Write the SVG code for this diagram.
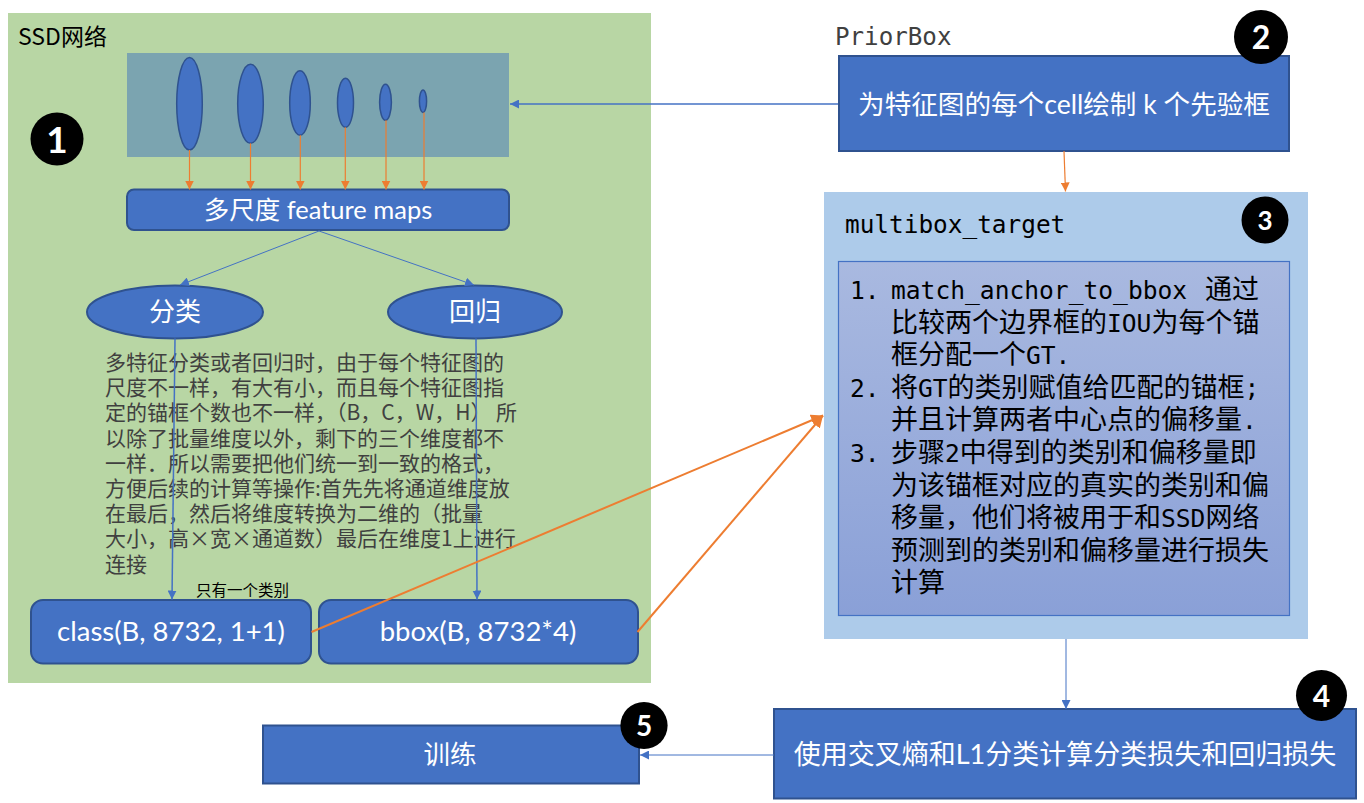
<svg xmlns="http://www.w3.org/2000/svg" width="1364" height="803" viewBox="0 0 1364 803">
<style>
.bx{fill:#4472c4;stroke:#2f528f;stroke-width:2}
.wt{fill:#fff;font-family:"Lato","Noto Sans CJK SC",sans-serif;text-anchor:middle}
.cj{font-family:"Noto Sans CJK SC",sans-serif}
.mono{font-family:"DejaVu Sans Mono","Liberation Mono",monospace}
.num circle{fill:#000}
.num text{fill:#fff;font-family:"Lato","Liberation Sans",sans-serif;font-weight:bold;text-anchor:middle}
.bl{stroke:#4472c4;fill:none}
.or{stroke:#ed7d31;fill:none}
.para{font-family:"Noto Sans CJK SC",sans-serif;font-size:21px;fill:#404040}
.mt{font-family:"Noto Sans CJK SC",sans-serif;font-size:27px;fill:#000}
.m{font-family:"DejaVu Sans Mono","Liberation Mono",monospace;font-size:24.6px;fill:#000}
</style>
<defs>
<marker id="ab" viewBox="0 0 10 10" refX="10" refY="5" markerWidth="9" markerHeight="9" markerUnits="userSpaceOnUse" orient="auto"><path d="M0,0L10,5L0,10z" fill="#4472c4"/></marker>
<marker id="ao" viewBox="0 0 10 10" refX="10" refY="5" markerWidth="9" markerHeight="9" markerUnits="userSpaceOnUse" orient="auto"><path d="M0,0L10,5L0,10z" fill="#ed7d31"/></marker>
<marker id="ao2" viewBox="0 0 10 10" refX="10" refY="5" markerWidth="12" markerHeight="12" markerUnits="userSpaceOnUse" orient="auto"><path d="M0,0L10,5L0,10z" fill="#ed7d31"/></marker>
<linearGradient id="g3" x1="0" y1="0" x2="0" y2="1"><stop offset="0" stop-color="#a9b9e0"/><stop offset="1" stop-color="#8aa0d7"/></linearGradient>
</defs>

<g id="ssd">
<rect x="8" y="13" width="643" height="670" fill="#b8d6a4"/>
<text x="18" y="45" class="cj" font-size="23" fill="#000">SSD网络</text>
</g>

<g id="featurestack">
<rect x="127" y="53" width="382" height="104" fill="#7ba4b0"/>
<g fill="#4472c4" stroke="#2f528f" stroke-width="1.5">
<ellipse cx="189.5" cy="103.7" rx="12.8" ry="46.3"/>
<ellipse cx="250.5" cy="103.8" rx="12.8" ry="39.5"/>
<ellipse cx="300" cy="103" rx="10.3" ry="32.3"/>
<ellipse cx="345.5" cy="102.8" rx="8" ry="24.5"/>
<ellipse cx="385.5" cy="102.3" rx="5.9" ry="18"/>
<ellipse cx="423" cy="101.2" rx="3.6" ry="11.2"/>
</g>
</g>

<g id="n1" class="num"><circle cx="57" cy="139" r="26.5"/><text x="57" y="152.5" font-size="37">1</text></g>

<g id="featuremaps">
<rect x="127" y="189.5" width="382" height="40.5" rx="7" class="bx"/>
<text x="318" y="219" class="wt" font-size="25.5">多尺度 feature maps</text>
</g>

<g id="cls">
<ellipse cx="175" cy="312" rx="88" ry="26.5" class="bx" stroke-width="1.5"/>
<text x="175" y="321" class="wt" font-size="26">分类</text>
</g>
<g id="reg">
<ellipse cx="475" cy="312" rx="87" ry="26.5" class="bx" stroke-width="1.5"/>
<text x="475" y="321" class="wt" font-size="26">回归</text>
</g>

<g id="note">
<text class="para" x="105" y="370">多特征分类或者回归时，由于每个特征图的</text>
<text class="para" x="105" y="395.2">尺度不一样，有大有小，而且每个特征图指</text>
<text class="para" x="105" y="420.4">定的锚框个数也不一样，（B，C，W，H） 所</text>
<text class="para" x="105" y="445.6">以除了批量维度以外，剩下的三个维度都不</text>
<text class="para" x="105" y="470.8">一样．所以需要把他们统一到一致的格式，</text>
<text class="para" x="105" y="496">方便后续的计算等操作:首先先将通道维度放</text>
<text class="para" x="105" y="521.2">在最后，然后将维度转换为二维的（批量</text>
<text class="para" x="105" y="546.4">大小，高×宽×通道数）最后在维度1上进行</text>
<text class="para" x="105" y="571.6">连接</text>
<text x="196" y="596" class="cj" font-size="15.5" fill="#000">只有一个类别</text>
</g>

<g id="classbox">
<rect x="31" y="600" width="280" height="63.5" rx="12" class="bx"/>
<text x="171" y="641" class="wt" font-size="27.5">class(B, 8732, 1+1)</text>
</g>
<g id="bboxbox">
<rect x="319" y="600" width="319" height="63.5" rx="12" class="bx"/>
<text x="478" y="641" class="wt" font-size="27.5">bbox(B, 8732*4)</text>
</g>

<g id="priorbox">
<text x="835" y="45" class="mono" font-size="24.2" fill="#404040">PriorBox</text>
<rect x="839" y="56" width="450" height="95" class="bx"/>
<text x="1064" y="114" class="wt" font-size="26.6">为特征图的每个cell绘制 k 个先验框</text>
</g>
<g id="n2" class="num"><circle cx="1261" cy="37" r="27"/><text x="1261" y="49" font-size="32">2</text></g>

<g id="multibox">
<rect x="824" y="192" width="484" height="447" fill="#adcbea"/>
<text x="845" y="233" class="mono" font-size="24.4" fill="#000">multibox_target</text>
<rect x="838.5" y="261.5" width="451" height="354" fill="url(#g3)" stroke="#4472c4" stroke-width="1.2"/>
<text class="m" x="850" y="299">1.</text>
<text class="m" x="891" y="299">match_anchor_to_bbox</text>
<text class="mt" x="1205" y="299">通过</text>
<text class="mt" x="891" y="331.6">比较两个边界框的</text>
<text class="m" x="1107" y="331.6">IOU</text>
<text class="mt" x="1151.4" y="331.6">为每个锚</text>
<text class="mt" x="891" y="364.2">框分配一个</text>
<text class="m" x="1026" y="364.2">GT.</text>
<text class="m" x="850" y="396.8">2.</text>
<text class="mt" x="891" y="396.8">将</text>
<text class="m" x="918" y="396.8">GT</text>
<text class="mt" x="947.6" y="396.8">的类别赋值给匹配的锚框</text>
<text class="m" x="1244.6" y="396.8">;</text>
<text class="mt" x="891" y="429.4">并且计算两者中心点的偏移量</text>
<text class="m" x="1242" y="429.4">.</text>
<text class="m" x="850" y="462">3.</text>
<text class="mt" x="891" y="462">步骤</text>
<text class="m" x="945" y="462">2</text>
<text class="mt" x="959.8" y="462">中得到的类别和偏移量即</text>
<text class="mt" x="891" y="494.6">为该锚框对应的真实的类别和偏</text>
<text class="mt" x="891" y="527.2">移量，他们将被用于和</text>
<text class="m" x="1161" y="527.2">SSD</text>
<text class="mt" x="1205.4" y="527.2">网络</text>
<text class="mt" x="891" y="559.8">预测到的类别和偏移量进行损失</text>
<text class="mt" x="891" y="592.4">计算</text>
</g>
<g id="n3" class="num"><circle cx="1265" cy="220" r="23.5"/><text x="1265" y="229.5" font-size="26">3</text></g>

<g id="loss">
<rect x="774" y="709" width="582" height="89.5" class="bx"/>
<text x="1065" y="764" class="wt" font-size="27">使用交叉熵和L1分类计算分类损失和回归损失</text>
</g>
<g id="n4" class="num"><circle cx="1321.5" cy="695.5" r="25.5"/><text x="1321.5" y="706.5" font-size="30">4</text></g>

<g id="train">
<rect x="263" y="725.5" width="376" height="58" class="bx"/>
<text x="450" y="764" class="wt" font-size="26.5">训练</text>
</g>
<g id="n5" class="num"><circle cx="644" cy="725.5" r="23.6"/><text x="644" y="735.5" font-size="28">5</text></g>

<g id="connectors">
<g class="or" stroke-width="1.2" marker-end="url(#ao)">
<line x1="189.5" y1="150" x2="189.5" y2="189.5"/>
<line x1="250.5" y1="143.3" x2="250.5" y2="189.5"/>
<line x1="300.3" y1="135.3" x2="300.3" y2="189.5"/>
<line x1="345.3" y1="127.3" x2="345.3" y2="189.5"/>
<line x1="386" y1="120.3" x2="386" y2="189.5"/>
<line x1="424" y1="112.4" x2="424" y2="189.5"/>
</g>
<g class="bl" stroke-width="1" marker-end="url(#ab)">
<line x1="319" y1="231" x2="180" y2="285"/>
<line x1="319" y1="231" x2="474" y2="285"/>
</g>
<g class="bl" stroke-width="1.5" marker-end="url(#ab)">
<line x1="175" y1="338.5" x2="172" y2="599.5"/>
<line x1="476" y1="338.5" x2="477" y2="599.5"/>
<line x1="838" y1="104" x2="510" y2="104"/>
</g>
<line x1="1064" y1="151" x2="1065.5" y2="191.5" class="or" stroke-width="1.2" marker-end="url(#ao)"/>
<g class="or" stroke-width="2" marker-end="url(#ao2)">
<line x1="311.5" y1="632" x2="823" y2="415.5"/>
<line x1="637.5" y1="632" x2="823" y2="415.5"/>
</g>
<g class="bl" stroke-width="1" marker-end="url(#ab)">
<line x1="1066" y1="639" x2="1066" y2="709"/>
<line x1="774" y1="755" x2="640" y2="755"/>
</g>
</g>
</svg>
